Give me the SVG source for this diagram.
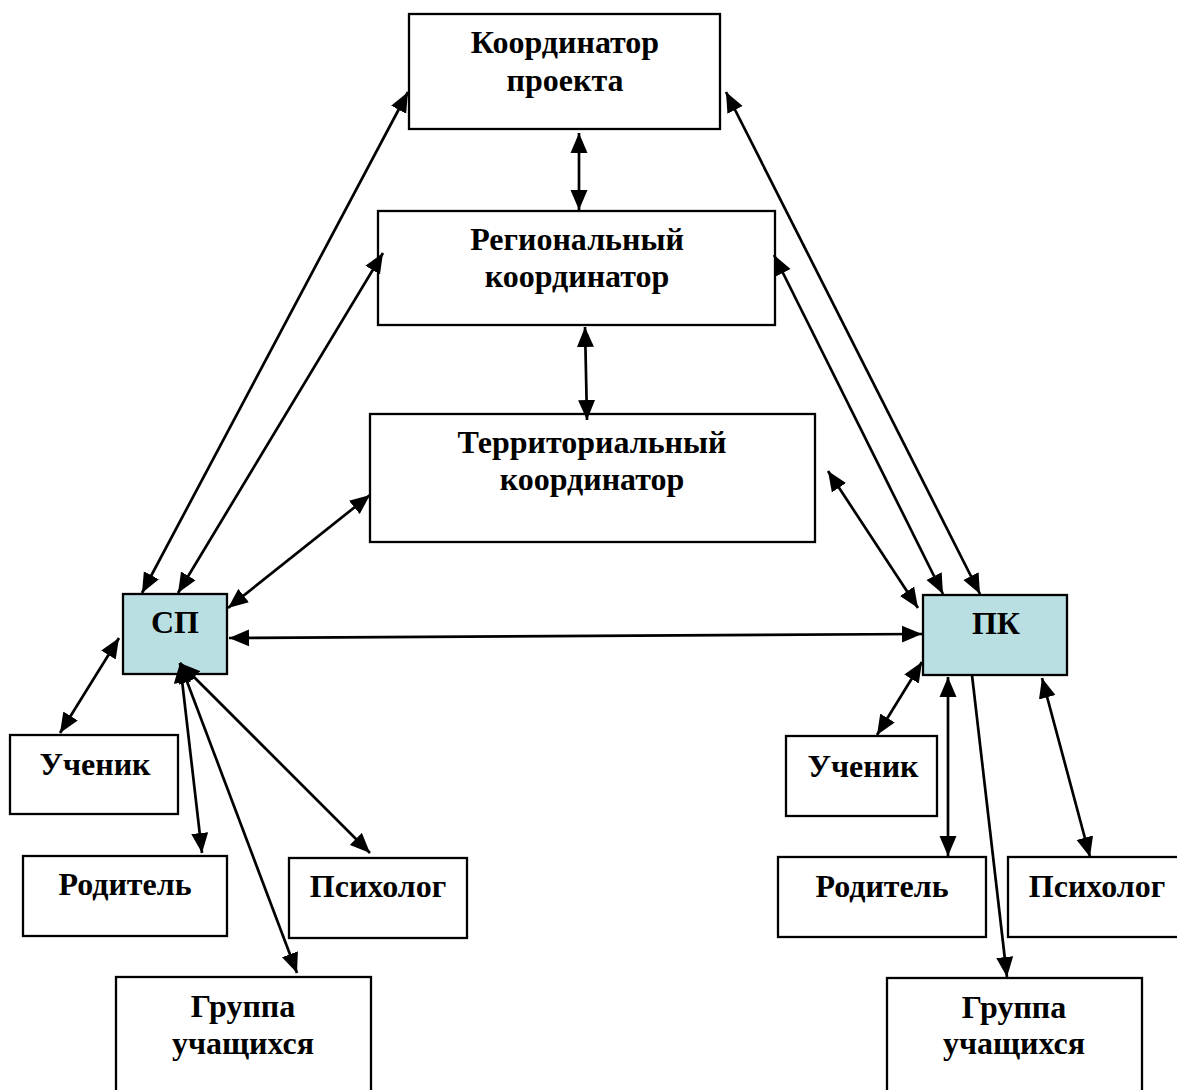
<svg xmlns="http://www.w3.org/2000/svg" width="1177" height="1090" viewBox="0 0 1177 1090">
<defs>
<marker id="ah" markerUnits="userSpaceOnUse" markerWidth="21" markerHeight="18" refX="20" refY="9" orient="auto-start-reverse" viewBox="0 0 21 18">
<path d="M0,0.5 L20,9 L0,17.5 z" fill="#000"/>
</marker>
<style>
.box{fill:#fff;stroke:#000;stroke-width:2.3}
.blue{fill:#badfe3;stroke:#000;stroke-width:2.3}
.t{font-family:"Liberation Serif","Times New Roman",serif;font-weight:bold;font-size:32px;text-anchor:middle;fill:#000}
.c line{stroke:#000;stroke-width:2.7}
.d{marker-start:url(#ah);marker-end:url(#ah)}
.s{marker-end:url(#ah)}
</style>
</defs>
<rect width="1177" height="1090" fill="#fff"/>
<g id="koord">
<rect class="box" x="409" y="14" width="311" height="115"/>
<text class="t" x="565" y="53">Координатор</text>
<text class="t" x="565" y="91">проекта</text>
</g>
<g id="region">
<rect class="box" x="378" y="211" width="397" height="114"/>
<text class="t" x="577" y="250">Региональный</text>
<text class="t" x="577" y="287">координатор</text>
</g>
<g id="territ">
<rect class="box" x="370" y="414" width="445" height="128"/>
<text class="t" x="592" y="453">Территориальный</text>
<text class="t" x="592" y="490">координатор</text>
</g>
<g id="sp">
<rect class="blue" x="123" y="594" width="104" height="80"/>
<text class="t" x="175" y="633">СП</text>
</g>
<g id="pk">
<rect class="blue" x="923" y="595" width="144" height="80"/>
<text class="t" x="996" y="634">ПК</text>
</g>
<g id="uchenik-l">
<rect class="box" x="10" y="735" width="168" height="79"/>
<text class="t" x="95" y="775">Ученик</text>
</g>
<g id="roditel-l">
<rect class="box" x="23" y="856" width="204" height="80"/>
<text class="t" x="125" y="895">Родитель</text>
</g>
<g id="psiholog-l">
<rect class="box" x="289" y="858" width="178" height="80"/>
<text class="t" x="378" y="897">Психолог</text>
</g>
<g id="gruppa-l">
<rect class="box" x="116" y="977" width="255" height="120"/>
<text class="t" x="243" y="1017">Группа</text>
<text class="t" x="243" y="1054">учащихся</text>
</g>
<g id="uchenik-r">
<rect class="box" x="786" y="736" width="151" height="80"/>
<text class="t" x="863" y="777">Ученик</text>
</g>
<g id="roditel-r">
<rect class="box" x="778" y="857" width="208" height="80"/>
<text class="t" x="882" y="897">Родитель</text>
</g>
<g id="psiholog-r">
<rect class="box" x="1008" y="857" width="180" height="80"/>
<text class="t" x="1097" y="897">Психолог</text>
</g>
<g id="gruppa-r">
<rect class="box" x="887" y="978" width="255" height="120"/>
<text class="t" x="1014" y="1018">Группа</text>
<text class="t" x="1014" y="1054">учащихся</text>
</g>
<g id="connectors" class="c">
<line class="d" x1="579" y1="133" x2="579" y2="210"/>
<line class="d" x1="585" y1="327" x2="587" y2="420"/>
<line class="d" x1="142" y1="593" x2="408" y2="92"/>
<line class="d" x1="178" y1="593" x2="383" y2="253"/>
<line class="d" x1="228" y1="608" x2="370" y2="495"/>
<line class="d" x1="229" y1="638" x2="922" y2="634"/>
<line class="d" x1="980" y1="594" x2="726" y2="92"/>
<line class="d" x1="943" y1="594" x2="774" y2="255"/>
<line class="d" x1="918" y1="608" x2="828" y2="471"/>
<line class="d" x1="119" y1="638" x2="60" y2="733"/>
<line class="d" x1="180" y1="663" x2="202" y2="853"/>
<line class="d" x1="180" y1="663" x2="297" y2="973"/>
<line class="d" x1="180" y1="663" x2="370" y2="853"/>
<line class="d" x1="922" y1="662" x2="877" y2="735"/>
<line class="d" x1="948" y1="677" x2="948" y2="856"/>
<line class="s" x1="972" y1="675" x2="1007" y2="977"/>
<line class="d" x1="1042" y1="678" x2="1090" y2="857"/>
</g>
</svg>
